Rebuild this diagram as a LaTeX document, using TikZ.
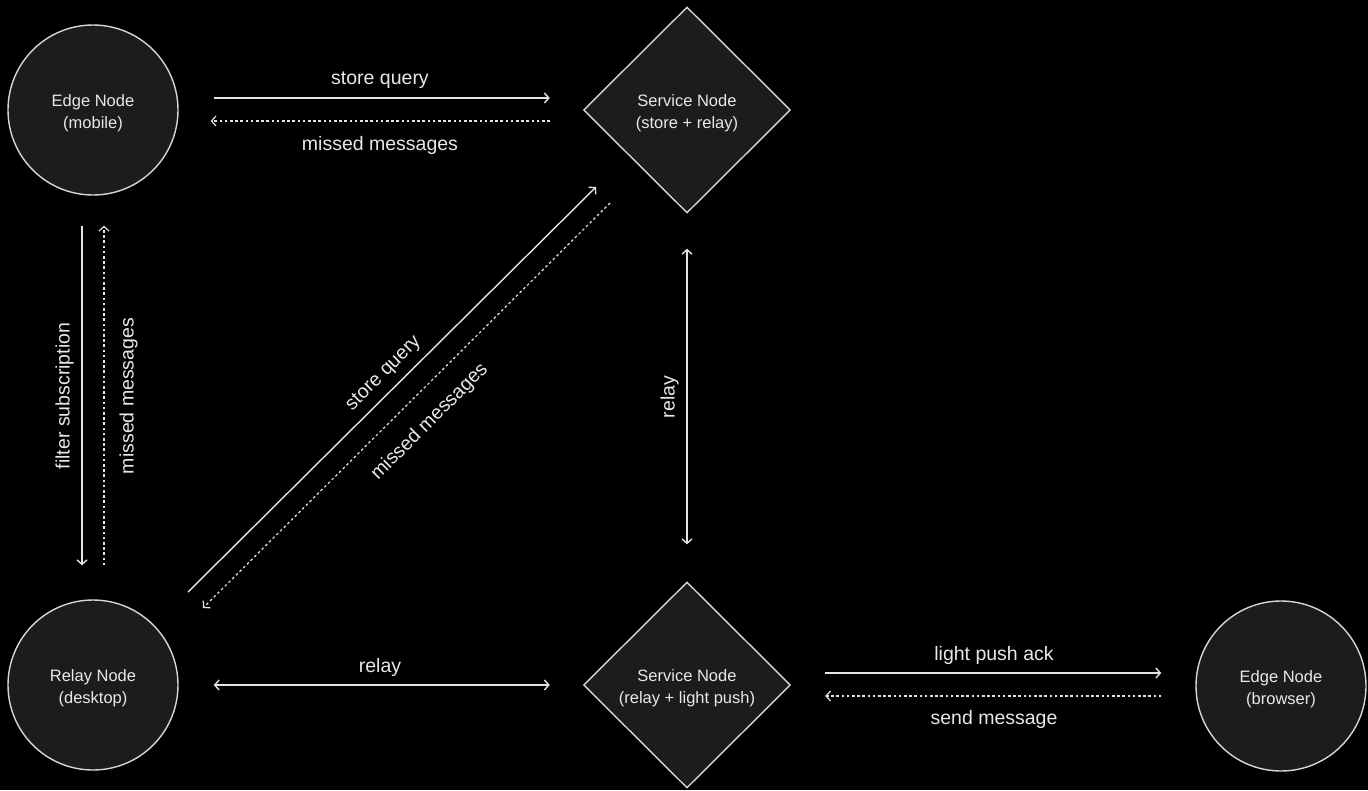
\documentclass[tikz,border=0pt]{standalone}
\usepackage{fontspec}
\setmainfont{Liberation Sans}
\usetikzlibrary{shapes.geometric,arrows.meta}

\definecolor{nodefill}{HTML}{1C1C1C}
\definecolor{nodeline}{HTML}{D6D6D6}
\definecolor{inktext}{HTML}{E8E8E8}
\definecolor{wire}{HTML}{E4E4E4}

\tikzset{
  roundnode/.style={circle, draw=nodeline, fill=nodefill, line width=1.4pt,
    minimum size=170pt, inner sep=0pt, text=inktext, align=center,
    text height=39.5pt, font=\fontsize{16.5}{22}\selectfont},
  diamondnode/.style={diamond, draw=nodeline, fill=nodefill, line width=1.4pt,
    minimum width=207pt, minimum height=206pt, inner sep=0pt, text=inktext,
    align=center, text height=39.5pt, font=\fontsize{16.5}{22}\selectfont},
  lbl/.style={text=inktext, inner sep=0pt, font=\fontsize{19.5}{22}\selectfont},
  solidarrow/.style={draw=wire, line width=1.4pt, -{Straight Barb[length=4.5pt,width=10pt]}},
  duplexarrow/.style={draw=wire, line width=1.4pt,
    {Straight Barb[length=4.5pt,width=10pt]}-{Straight Barb[length=4.5pt,width=10pt]}},
  dasharrow/.style={draw=wire, line width=1.2pt, dash pattern=on 2.6pt off 2.6pt,
    -{Straight Barb[length=4.5pt,width=10pt]}},
}

\begin{document}
\begin{tikzpicture}[x=1pt, y=1pt]
  % canvas
  \fill[black] (0,0) rectangle (1368,-790);
  \useasboundingbox (0,0) rectangle (1368,-790);

  % peers
  \node[roundnode]   (em) at (93,-110)   {Edge Node\\(mobile)};
  \node[diamondnode] (sr) at (687,-110)  {Service Node\\(store + relay)};
  \node[roundnode]   (rn) at (93,-685)   {Relay Node\\(desktop)};
  \node[diamondnode] (sl) at (687,-685)  {Service Node\\(relay + light push)};
  \node[roundnode]   (eb) at (1281,-686) {Edge Node\\(browser)};

  % mobile <-> store
  \draw[solidarrow, shorten <=35pt, shorten >=33pt]
    ([yshift=12pt]em.east) -- ([yshift=12pt]sr.west);
  \draw[dasharrow, shorten <=33pt, shorten >=32pt]
    ([yshift=-11pt]sr.west) -- ([yshift=-11pt]em.east);
  \node[lbl] (l-sq1) at (380,-80.5)  {store query};
  \node[lbl] (l-mm1) at (380,-145.5) {missed messages};

  % mobile <-> desktop
  \draw[solidarrow, shorten <=30pt, shorten >=34pt]
    ([xshift=-11pt]em.south) -- ([xshift=-11pt]rn.north);
  \draw[dasharrow, shorten <=34pt, shorten >=30pt]
    ([xshift=11pt]rn.north) -- ([xshift=11pt]em.south);
  \node[lbl, rotate=90] (l-fs)  at (64.5,-396)  {filter subscription};
  \node[lbl, rotate=90] (l-mm2) at (128.5,-396) {missed messages};

  % desktop <-> store
  \draw[solidarrow]
    ([shift={(95pt,93pt)}]rn.center) -- ([shift={(-91pt,-77pt)}]sr.center);
  \draw[dasharrow]
    ([shift={(-77pt,-93pt)}]sr.center) -- ([shift={(110pt,77pt)}]rn.center);
  \node[lbl, rotate=45] (l-sq2) at (383.8,-373.8) {store query};
  \node[lbl, rotate=45] (l-mm3) at (429.8,-421.8) {missed messages};

  % store <-> light push relay
  \draw[duplexarrow, shorten <=35pt, shorten >=37pt] (sr.south) -- (sl.north);
  \node[lbl, rotate=90] (l-r1) at (669.5,-397) {relay};

  % desktop <-> light push
  \draw[duplexarrow, shorten <=35pt, shorten >=33pt] (rn.east) -- (sl.west);
  \node[lbl] (l-r2) at (380,-667.5) {relay};

  % light push <-> browser
  \draw[solidarrow, shorten <=34pt, shorten >=34pt]
    ([yshift=12pt]sl.east) -- ([yshift=13pt]eb.west);
  \draw[dasharrow, shorten <=34pt, shorten >=34pt]
    ([yshift=-10pt]eb.west) -- ([yshift=-11pt]sl.east);
  \node[lbl] (l-lpa) at (994,-655.5) {light push ack};
  \node[lbl] (l-sm)  at (994,-719.5) {send message};
\end{tikzpicture}
\end{document}
